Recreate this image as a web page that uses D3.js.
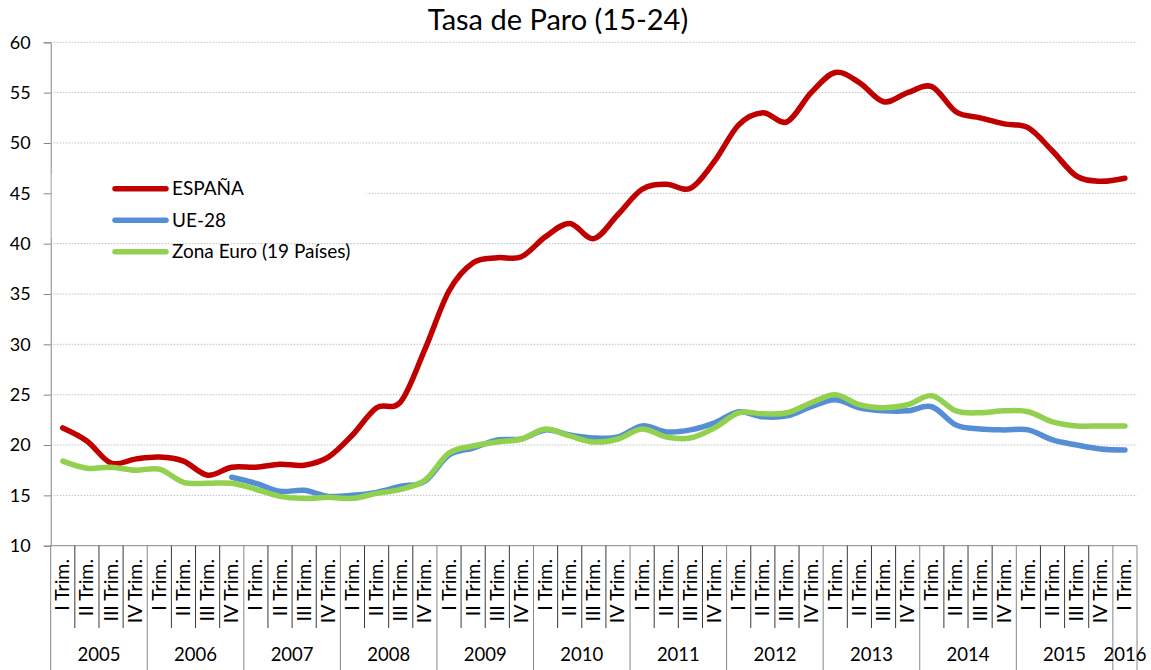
<!DOCTYPE html>
<html>
<head>
<meta charset="utf-8">
<script src="https://cdn.jsdelivr.net/npm/d3@7"></script>
<style>
  body { margin: 0; background: #fff; }
  text { font-family: Lato, "Open Sans", sans-serif; fill: #000; }
</style>
</head>
<body>
<svg id="chart" width="1151" height="670"></svg>
<script>
// categorías: trimestres 2005 I .. 2016 I
const years = [2005, 2006, 2007, 2008, 2009, 2010, 2011, 2012, 2013, 2014, 2015, 2016];
const quarterNames = ["I Trim.", "II Trim.", "III Trim.", "IV Trim."];
const yTicks = [10, 15, 20, 25, 30, 35, 40, 45, 50, 55, 60];

// tasa de paro (15-24)
const espana = [21.7, 20.4, 18.2, 18.6, 18.8, 18.4, 17.0, 17.8, 17.8, 18.1, 18.0, 18.8,
  21.0, 23.7, 24.3, 29.5, 35.3, 38.1, 38.6, 38.7, 40.7, 42.0, 40.5, 42.9,
  45.4, 45.9, 45.5, 48.2, 51.8, 53.0, 52.1, 55.0, 57.0, 56.0, 54.1, 55.0,
  55.6, 53.1, 52.5, 51.9, 51.5, 49.2, 46.7, 46.2, 46.5];
const ue28 = [null, null, null, null, null, null, null, 16.8, 16.2, 15.4, 15.5, 14.9,
  15.0, 15.3, 15.9, 16.4, 19.0, 19.7, 20.5, 20.6, 21.5, 21.0, 20.7, 20.8,
  21.9, 21.3, 21.5, 22.2, 23.3, 22.8, 22.9, 23.8, 24.5, 23.7, 23.4, 23.4,
  23.8, 22.0, 21.6, 21.5, 21.5, 20.5, 20.0, 19.6, 19.5];
const zonaEuro = [18.4, 17.7, 17.8, 17.5, 17.6, 16.3, 16.2, 16.2, 15.6, 14.9, 14.7, 14.8,
  14.7, 15.2, 15.6, 16.5, 19.2, 19.9, 20.3, 20.6, 21.6, 20.9, 20.3, 20.6,
  21.6, 20.8, 20.7, 21.7, 23.2, 23.1, 23.2, 24.2, 25.0, 24.0, 23.7, 24.0,
  24.9, 23.4, 23.2, 23.4, 23.3, 22.3, 21.9, 21.9, 21.9];

const series = [
  { name: "ESPAÑA", values: espana, color: "#c00000" },
  { name: "UE-28", values: ue28, color: "#558ed5" },
  { name: "Zona Euro (19 Países)", values: zonaEuro, color: "#92d050" }
];

const categories = [];
years.forEach(yr => {
  quarterNames.forEach((q, qi) => {
    if (yr < 2016 || qi === 0) categories.push({ year: yr, label: q, idx: categories.length });
  });
});

const plotLeft = 50.7, plotRight = 1137, plotTop = 42.3, plotBottom = 545.7;
const svg = d3.select("#chart");

const x = d3.scaleBand()
  .domain(categories.map(d => d.idx))
  .range([plotLeft, plotRight]);
const bw = x.bandwidth();

const y = d3.scaleLinear()
  .domain([10, 60])
  .range([plotBottom, plotTop]);

// título
svg.append("text")
  .attr("x", 558)
  .attr("y", 30)
  .attr("text-anchor", "middle")
  .style("font-size", "29px")
  .text("Tasa de Paro (15-24)");

// rejilla
svg.append("g")
  .selectAll("line")
  .data(yTicks.filter(t => t > 10))
  .enter()
  .append("line")
  .attr("x1", plotLeft)
  .attr("x2", plotRight)
  .attr("y1", d => y(d))
  .attr("y2", d => y(d))
  .attr("stroke", "#bfbfbf")
  .attr("stroke-width", 1)
  .attr("stroke-dasharray", "1.5,1.5");

// eje Y
const yAxis = svg.append("g")
  .attr("transform", `translate(${plotLeft},0)`)
  .call(d3.axisLeft(y).tickValues(yTicks).tickSize(7).tickPadding(13));
yAxis.select(".domain").attr("stroke", "#868686");
yAxis.selectAll(".tick line").attr("stroke", "#868686");
yAxis.selectAll(".tick text")
  .style("font-size", "18px")
  .style("font-family", "Lato, sans-serif")
  .attr("fill", "#000");

// eje X: línea base
svg.append("line")
  .attr("x1", plotLeft).attr("x2", plotRight)
  .attr("y1", plotBottom).attr("y2", plotBottom)
  .attr("stroke", "#868686");

// separadores de categorías
const bounds = d3.range(categories.length + 1);
const isYearEdge = k => k % 4 === 0 || k === categories.length;
svg.append("g")
  .selectAll("line")
  .data(bounds)
  .enter()
  .append("line")
  .attr("x1", k => plotLeft + k * bw)
  .attr("x2", k => plotLeft + k * bw)
  .attr("y1", plotBottom)
  .attr("y2", k => isYearEdge(k) ? 670 : 628)
  .attr("stroke", k => isYearEdge(k) ? "#868686" : "#3a3a3a")
  .attr("stroke-width", 1);

// etiquetas de trimestre
svg.append("g")
  .selectAll("text")
  .data(categories)
  .enter()
  .append("text")
  .attr("transform", d => `translate(${x(d.idx) + bw / 2 + 6.5},559) rotate(-90)`)
  .attr("text-anchor", "end")
  .style("font-size", "19.5px")
  .text(d => d.label);

// etiquetas de año
svg.append("g")
  .selectAll("text")
  .data(years)
  .enter()
  .append("text")
  .attr("x", yr => {
    const first = categories.find(c => c.year === yr).idx;
    const n = categories.filter(c => c.year === yr).length;
    return x(first) + (n * bw) / 2;
  })
  .attr("y", 661)
  .attr("text-anchor", "middle")
  .style("font-size", "18.5px")
  .text(d => d);

// líneas suavizadas
const line = d3.line()
  .defined(d => d != null)
  .x((d, i) => x(i) + bw / 2)
  .y(d => y(d))
  .curve(d3.curveCardinal.tension(0));

series.forEach(s => {
  svg.append("path")
    .datum(s.values)
    .attr("fill", "none")
    .attr("stroke", s.color)
    .attr("stroke-width", 5.5)
    .attr("stroke-linecap", "round")
    .attr("stroke-linejoin", "round")
    .attr("d", line);
});

// leyenda
const legend = svg.append("g");
legend.append("rect")
  .attr("x", plotLeft + 1)
  .attr("y", 174)
  .attr("width", 315)
  .attr("height", 64)
  .attr("fill", "#fff");

const legendItems = legend.selectAll(".legend-item")
  .data(series)
  .enter()
  .append("g")
  .attr("class", "legend-item")
  .attr("transform", (d, i) => `translate(0, ${188.7 + i * 31.5})`);

legendItems.append("line")
  .attr("x1", 115)
  .attr("x2", 166)
  .attr("y1", 0)
  .attr("y2", 0)
  .attr("stroke", d => d.color)
  .attr("stroke-width", 5.5)
  .attr("stroke-linecap", "round");

legendItems.append("text")
  .attr("x", 172)
  .attr("y", 6.5)
  .style("font-size", "19px")
  .text(d => d.name);
</script>
</body>
</html>
